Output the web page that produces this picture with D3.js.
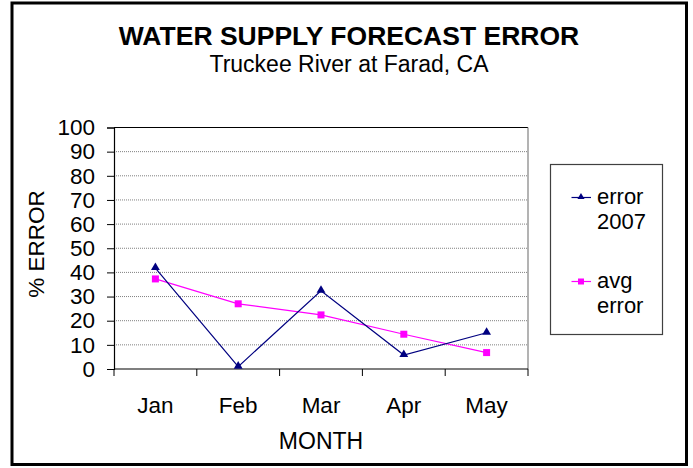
<!DOCTYPE html>
<html>
<head>
    <title>Water Supply Forecast Error</title>
    <script src="https://d3js.org/d3.v7.min.js"></script>
    <style>
        body { margin: 0; background: #fff; }
        text { font-family: "Liberation Sans", Arial, sans-serif; fill: #000; }
    </style>
</head>
<body>
    <svg width="693" height="468"></svg>

    <script>
        // chart data
        const months = ["Jan", "Feb", "Mar", "Apr", "May"];
        const error2007 = [41.8, 1, 32.4, 5.8, 15];
        const avgError = [37.3, 27, 22.4, 14.4, 6.8];
        const yTicks = [0, 10, 20, 30, 40, 50, 60, 70, 80, 90, 100];

        const svg = d3.select("svg");

        // outer chart border
        svg.append("rect")
            .attr("x", 12).attr("y", 3)
            .attr("width", 674.5).attr("height", 461.5)
            .attr("fill", "#fff")
            .attr("stroke", "#000")
            .attr("stroke-width", 3);

        svg.append("text")
            .attr("x", 349).attr("y", 45)
            .attr("text-anchor", "middle")
            .attr("font-size", 26.5).attr("font-weight", "bold")
            .text("WATER SUPPLY FORECAST ERROR");

        svg.append("text")
            .attr("x", 349).attr("y", 71.5)
            .attr("text-anchor", "middle")
            .attr("font-size", 23)
            .text("Truckee River at Farad, CA");

        const plotL = 114, plotR = 528, plotT = 127.5, plotB = 369;

        const x = d3.scaleBand().domain(months).range([plotL, plotR]);
        const y = d3.scaleLinear().domain([0, 100]).range([plotB, plotT]);

        // gridlines
        svg.append("g")
            .selectAll("line")
            .data(yTicks.filter(d => d > 0 && d < 100))
            .join("line")
            .attr("x1", plotL).attr("x2", plotR)
            .attr("y1", d => y(d)).attr("y2", d => y(d))
            .attr("stroke", "#808080")
            .attr("stroke-width", 1)
            .attr("stroke-dasharray", "1,1");

        // plot area border: top black, right gray
        svg.append("line")
            .attr("x1", plotL).attr("x2", plotR)
            .attr("y1", plotT).attr("y2", plotT)
            .attr("stroke", "#000").attr("stroke-width", 1.2);
        svg.append("line")
            .attr("x1", plotR).attr("x2", plotR)
            .attr("y1", plotT).attr("y2", plotB)
            .attr("stroke", "#808080").attr("stroke-width", 1.2);

        // y axis
        const yAxis = svg.append("g")
            .attr("transform", `translate(${plotL},0)`)
            .call(d3.axisLeft(y).tickValues(yTicks).tickSize(7).tickPadding(12));
        yAxis.select(".domain").attr("stroke", "#000").attr("stroke-width", 1.2);
        yAxis.selectAll(".tick line").attr("stroke", "#000");
        yAxis.selectAll(".tick text")
            .attr("font-size", 22.5)
            .attr("font-family", "Liberation Sans, Arial, sans-serif")
            .attr("fill", "#000");

        // x axis, ticks at category boundaries
        const xAxisG = svg.append("g")
            .attr("transform", `translate(0,${plotB})`);
        xAxisG.append("line")
            .attr("x1", plotL).attr("x2", plotR)
            .attr("stroke", "#000").attr("stroke-width", 1.2);
        xAxisG.selectAll(".bt")
            .data(months.concat(["end"]))
            .join("line")
            .attr("class", "bt")
            .attr("x1", (d, i) => plotL + i * x.bandwidth())
            .attr("x2", (d, i) => plotL + i * x.bandwidth())
            .attr("y1", 0).attr("y2", 7)
            .attr("stroke", "#000");
        xAxisG.selectAll("text")
            .data(months)
            .join("text")
            .attr("x", d => x(d) + x.bandwidth() / 2)
            .attr("y", 43.5)
            .attr("text-anchor", "middle")
            .attr("font-size", 22.5)
            .text(d => d);

        svg.append("text")
            .attr("x", (plotL + plotR) / 2).attr("y", 448.5)
            .attr("text-anchor", "middle")
            .attr("font-size", 23)
            .text("MONTH");

        svg.append("text")
            .attr("transform", "translate(44,244) rotate(-90)")
            .attr("text-anchor", "middle")
            .attr("font-size", 22.5)
            .text("% ERROR");

        const cx = d => x(d) + x.bandwidth() / 2;
        const line = d3.line()
            .x((d, i) => cx(months[i]))
            .y(d => y(d));

        const tri = d3.symbol().type(d3.symbolTriangle).size(34);

        // avg error series
        svg.append("path")
            .datum(avgError)
            .attr("d", line)
            .attr("fill", "none")
            .attr("stroke", "#ff00ff")
            .attr("stroke-width", 1.2);
        svg.append("g")
            .selectAll("rect")
            .data(avgError)
            .join("rect")
            .attr("x", (d, i) => cx(months[i]) - 3.5)
            .attr("y", d => y(d) - 3.5)
            .attr("width", 7).attr("height", 7)
            .attr("fill", "#ff00ff");

        // error 2007 series
        svg.append("path")
            .datum(error2007)
            .attr("d", line)
            .attr("fill", "none")
            .attr("stroke", "#000080")
            .attr("stroke-width", 1.2);
        svg.append("g")
            .selectAll("path")
            .data(error2007)
            .join("path")
            .attr("d", tri)
            .attr("transform", (d, i) => `translate(${cx(months[i])},${y(d) - 0.5})`)
            .attr("fill", "#000080");

        // legend
        const lg = svg.append("g");
        lg.append("rect")
            .attr("x", 550.5).attr("y", 164.5)
            .attr("width", 112).attr("height", 170)
            .attr("fill", "#fff")
            .attr("stroke", "#404040")
            .attr("stroke-width", 1.2);

        const legendItems = [
            { lines: ["error", "2007"], color: "#000080", mark: "tri", y: 197.5 },
            { lines: ["avg", "error"], color: "#ff00ff", mark: "sq", y: 281.5 }
        ];
        legendItems.forEach(item => {
            lg.append("line")
                .attr("x1", 571.5).attr("x2", 591)
                .attr("y1", item.y).attr("y2", item.y)
                .attr("stroke", item.color).attr("stroke-width", 1.2);
            if (item.mark === "tri") {
                lg.append("path")
                    .attr("d", d3.symbol().type(d3.symbolTriangle).size(22))
                    .attr("transform", `translate(581,${item.y - 0.5})`)
                    .attr("fill", item.color);
            } else {
                lg.append("rect")
                    .attr("x", 578).attr("y", item.y - 3)
                    .attr("width", 6).attr("height", 6)
                    .attr("fill", item.color);
            }
            item.lines.forEach((t, j) => {
                lg.append("text")
                    .attr("x", 597)
                    .attr("y", item.y + 6.5 + j * 24.5)
                    .attr("font-size", 22)
                    .text(t);
            });
        });
    </script>
</body>
</html>
